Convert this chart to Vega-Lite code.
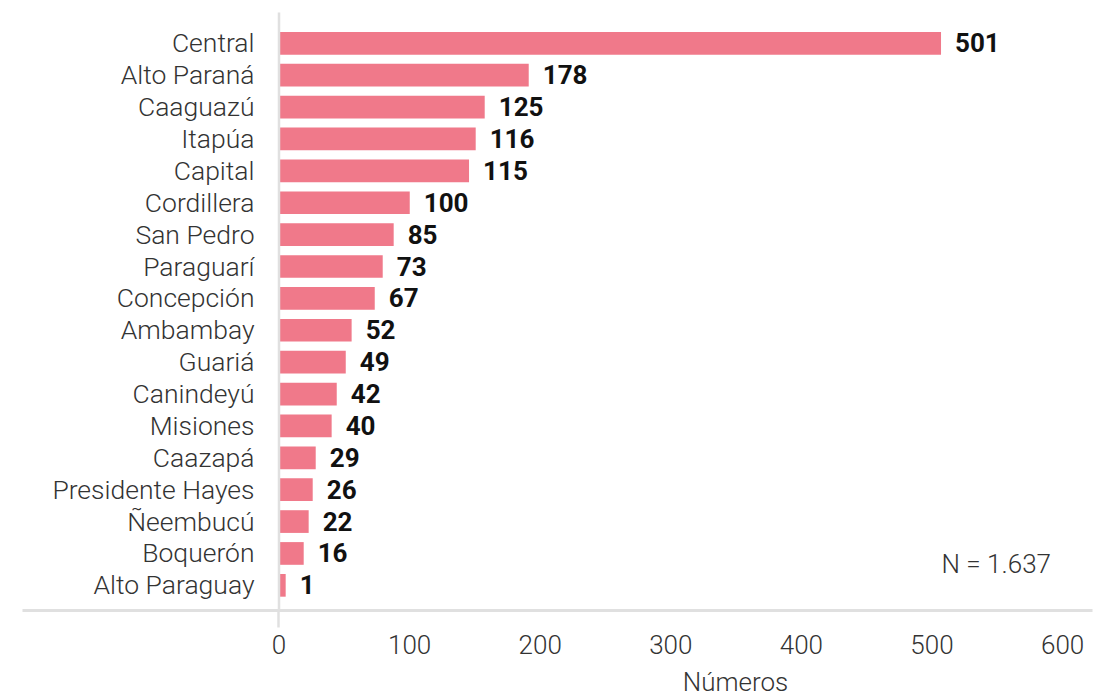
{
  "$schema": "https://vega.github.io/schema/vega-lite/v6.json",
  "width": 1070,
  "height": 598,
  "autosize": {"type": "none"},
  "padding": {"left": 22, "top": 12, "right": 15, "bottom": 86},
  "background": "white",
  "config": {"view": {"stroke": null}, "font": "Roboto"},
  "data": {
    "values": [
      {"departamento": "Central", "n": 501, "largo": 507.3},
      {"departamento": "Alto Paraná", "n": 178, "largo": 191.6},
      {"departamento": "Caaguazú", "n": 125, "largo": 157.9},
      {"departamento": "Itapúa", "n": 116, "largo": 151.0},
      {"departamento": "Capital", "n": 115, "largo": 145.9},
      {"departamento": "Cordillera", "n": 100, "largo": 100.5},
      {"departamento": "San Pedro", "n": 85, "largo": 88.2},
      {"departamento": "Paraguarí", "n": 73, "largo": 79.8},
      {"departamento": "Concepción", "n": 67, "largo": 73.7},
      {"departamento": "Ambambay", "n": 52, "largo": 56.0},
      {"departamento": "Guariá", "n": 49, "largo": 51.5},
      {"departamento": "Canindeyú", "n": 42, "largo": 44.6},
      {"departamento": "Misiones", "n": 40, "largo": 40.7},
      {"departamento": "Caazapá", "n": 29, "largo": 28.5},
      {"departamento": "Presidente Hayes", "n": 26, "largo": 26.2},
      {"departamento": "Ñeembucú", "n": 22, "largo": 23.1},
      {"departamento": "Boquerón", "n": 16, "largo": 19.3},
      {"departamento": "Alto Paraguay", "n": 1, "largo": 5.5}
    ]
  },
  "encoding": {
    "y": {
      "field": "departamento",
      "type": "nominal",
      "sort": null,
      "scale": {"paddingInner": 0.288, "paddingOuter": 0.522, "align": 0.6},
      "axis": {
        "title": null,
        "ticks": false,
        "domainColor": "#E0E0E0",
        "domainWidth": 2.5,
        "offset": -256.5,
        "zindex": 1,
        "labelPadding": 24.5,
        "labelOffset": 1,
        "labelFont": "Roboto",
        "labelFontSize": 26.5,
        "labelFontWeight": 300,
        "labelColor": "#333333",
        "labelLimit": 400
      }
    }
  },
  "layer": [
    {
      "mark": {"type": "bar", "color": "#F0798A"},
      "encoding": {
        "x": {
          "field": "largo",
          "type": "quantitative",
          "scale": {"domain": [-196.4, 622.9], "nice": false, "zero": false},
          "axis": {
            "values": [0, 100, 200, 300, 400, 500, 600],
            "grid": false,
            "labelFont": "Roboto",
            "labelFontSize": 26,
            "labelFontWeight": 300,
            "labelColor": "#333333",
            "labelPadding": 5,
            "labelOverlap": false,
            "labelFlush": false,
            "domainColor": "#E0E0E0",
            "domainWidth": 3,
            "tickColor": "#E0E0E0",
            "tickWidth": 2.5,
            "tickSize": 17,
            "tickOpacity": {"condition": {"test": "datum.value === 0", "value": 1}, "value": 0},
            "title": "Números",
            "titleFont": "Roboto",
            "titleFontSize": 26,
            "titleFontWeight": 300,
            "titleColor": "#333333",
            "titlePadding": 11,
            "titleX": 713,
            "titleAlign": "center"
          }
        },
        "x2": {"datum": 0}
      }
    },
    {
      "mark": {"type": "text", "align": "left", "baseline": "middle", "dx": 14, "dy": 1, "font": "Roboto", "fontSize": 26, "fontWeight": "bold", "color": "#111111"},
      "encoding": {
        "x": {"field": "largo", "type": "quantitative"},
        "text": {"field": "n", "type": "quantitative"}
      }
    },
    {
      "data": {"values": [{"nota": "N = 1.637"}]},
      "mark": {"type": "text", "align": "right", "baseline": "middle", "dy": 11.6, "font": "Roboto", "fontSize": 26, "fontWeight": 300, "color": "#333333"},
      "encoding": {
        "x": {"datum": 591.5},
        "y": {"datum": "Boquerón"},
        "text": {"field": "nota"}
      }
    }
  ]
}
